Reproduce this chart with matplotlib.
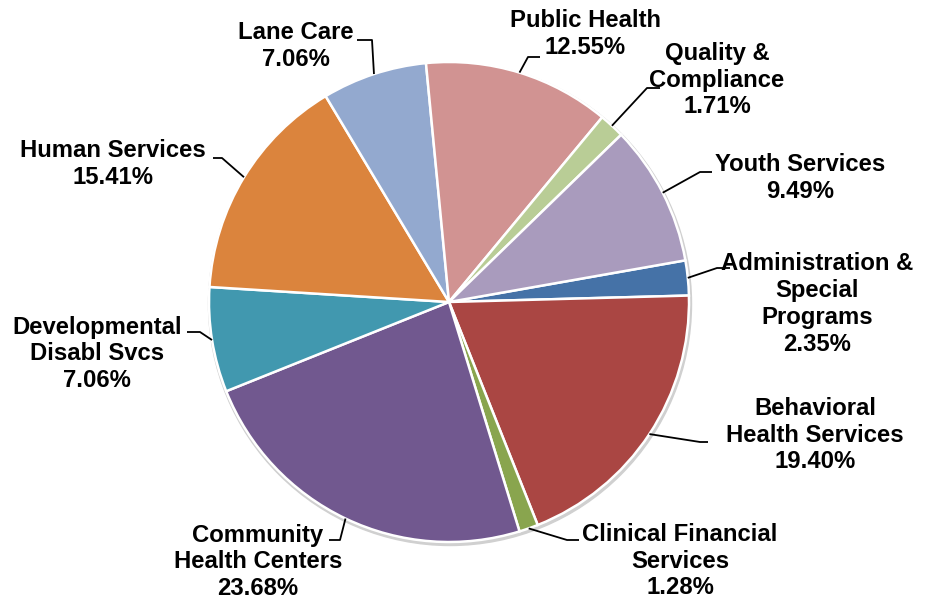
import numpy as np
import matplotlib
matplotlib.use("Agg")
import matplotlib.pyplot as plt
from matplotlib.patches import Circle

plt.rcParams['font.family'] = ['Liberation Sans', 'DejaVu Sans']

categories = ["Administration &\nSpecial\nPrograms", "Behavioral\nHealth Services",
              "Clinical Financial\nServices", "Community\nHealth Centers",
              "Developmental\nDisabl Svcs", "Human Services", "Lane Care",
              "Public Health", "Quality &\nCompliance", "Youth Services"]
values = [2.35, 19.40, 1.28, 23.68, 7.06, 15.41, 7.06, 12.55, 1.71, 9.49]
colors = ["#4572A7", "#AA4643", "#89A54E", "#71588F", "#4198AF",
          "#DB843D", "#93A9CF", "#D19392", "#B9CD96", "#A99BBD"]

# label layout (image pixel coords): text centre, leader horizontal segment (x_near_text, x_elbow, y)
text_pos = [(817, 304), (815, 435), (680, 561), (258, 562), (97, 354),
            (113, 164), (296, 46), (585, 34), (717, 80), (800, 178)]
seg = [(730, 717, 268), (708, 700, 442), (579, 567, 540), (329, 340, 540),
       (187, 200, 332), (213, 222, 158), (357, 372, 40), (540, 528, 57),
       (660, 647, 88), (712, 700, 172)]

W, H = 933, 604
fig = plt.figure(figsize=(W / 100, H / 100), dpi=100)
ax = fig.add_axes([0, 0, 1, 1])
ax.set_xlim(0, W)
ax.set_ylim(0, H)
ax.set_aspect('equal')
ax.axis('off')

cx, cy, R = 449, H - 302, 240

ax.add_patch(Circle((cx + 1, cy - 2), R + 1.5, color="#d0d0d0", zorder=0))

wedges, _ = ax.pie(values, colors=colors, startangle=10, counterclock=False,
                   center=(cx, cy), radius=R, frame=True,
                   wedgeprops=dict(edgecolor="white", linewidth=1.8))
ax.set_xlim(0, W)
ax.set_ylim(0, H)
ax.axis('off')

for w, v, name, tp, sg in zip(wedges, values, categories, text_pos, seg):
    mid = np.deg2rad((w.theta1 + w.theta2) / 2)
    ax_, ay_ = cx + R * np.cos(mid), cy + R * np.sin(mid)
    x1, x2, yy = sg
    ax.plot([x1, x2, ax_], [H - yy, H - yy, ay_], color="black", lw=1.3,
            solid_capstyle='butt', zorder=3)
    ax.text(tp[0], H - tp[1], f"{name}\n{v:.2f}%", ha="center", va="center",
            fontsize=17.2, fontweight="bold", linespacing=1.22, zorder=4)

fig.savefig("out.png", dpi=100)
